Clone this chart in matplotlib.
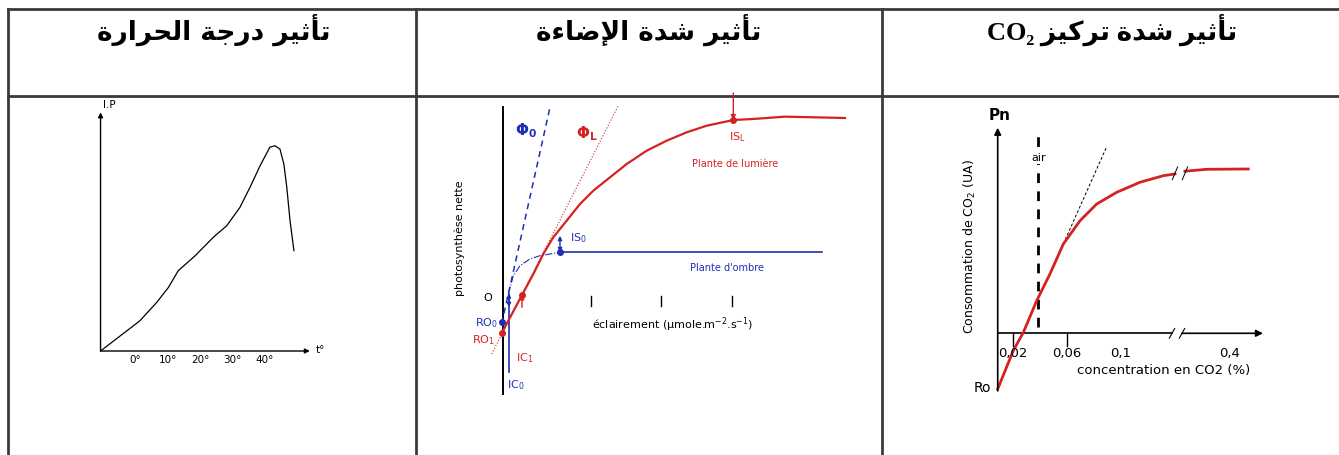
import matplotlib.pyplot as plt

W, H = 1339, 456

# titres (forme de présentation arabe, ordre visuel)
def visual(s):
    return s[::-1]

t_tathir = "\uFE97\uFE84\uFE9B\uFEF4\uFEAE"
t_daraja = "\uFEA9\uFEAD\uFE9F\uFE94"
t_harara = "\uFE8D\uFEDF\uFEA4\uFEAE\uFE8D\uFEAD\uFE93"
t_shidda = "\uFEB7\uFEAA\uFE93"
t_idaa = "\uFE8D\uFEF9\uFEBF\uFE8E\uFE80\uFE93"
t_tarkiz = "\uFE97\uFEAE\uFEDB\uFEF4\uFEB0"
titles = [visual(t_tathir + " " + t_daraja + " " + t_harara),
          visual(t_tathir + " " + t_shidda + " " + t_idaa),
          "CO\u2082 " + visual(t_tathir + " " + t_shidda + " " + t_tarkiz)]

# graphe 1 : température
temp = [-10.6, 1.5, 6.7, 10.3, 13.3, 18.5, 24.1, 28.2, 32.3, 35.4, 38.5, 41.5,
        43.1, 44.6, 45.8, 46.7, 47.7, 48.9]
ip = [0, 12.9, 20.8, 27.2, 34.3, 40.7, 48.6, 53.5, 61.4, 70.0, 79.2, 87.1,
      87.7, 86.3, 79.9, 70.0, 55.7, 42.9]
temp_ticks = [0, 10, 20, 30, 40]
temp_labels = ['0°', '10°', '20°', '30°', '40°']

# graphe 2 : éclairement
light_sun = [-2.4, 26.7, 42.9, 57.1, 71.4, 90.5, 109.6, 128.6, 152.4, 176.3,
             204.9, 233.4, 262, 290.6, 328.6, 357, 402.4, 488.1]
pn_sun = [-53.3, 1.4, 31.4, 60, 83.8, 107.6, 131.4, 150.5, 169.5, 188.6,
          207.6, 221.9, 233.8, 243.3, 251.4, 252.9, 256.2, 254.3]
light_shade = [7.1, 14.3, 23.9, 38.1, 52.4, 81]
pn_shade = [2.9, 29, 43.3, 52.9, 57.6, 62.4]
plateau_shade = [81, 455]
phi_shade_x = [-2.4, 66.7]
phi_shade_y = [-40, 269.5]
phi_sun_x = [-16.6, 164.3]
phi_sun_y = [-82.9, 271.9]
light_ticks = [125, 225, 327]
ro_shade = (-1.4, -36.7)
ro_sun = (-2.4, -53.3)
ic_shade = 8
ic_sun = (26.7, 1.4)
is_shade = (81, 62.4)
is_sun = (328.6, 251.4)

# graphe 3 : CO2
co2_lo = [0.0089, 0.0204, 0.0279, 0.0378, 0.0476, 0.0575, 0.0699, 0.0822,
          0.0970, 0.1143, 0.1316, 0.1402]
pn_lo = [-34.8, -10.9, 0.6, 20.4, 37.1, 55.8, 70.4, 80.8, 88.1, 94.4, 98.5, 99.6]
co2_hi = [0.1476, 0.1637, 0.1945]
pn_hi = [101.3, 102.5, 102.7]
co2_ticks = [0.02, 0.06, 0.1, 0.181]
co2_labels = ['0,02', '0,06', '0,1', '0,4']
air = 0.039
tangent_x = [0.0575, 0.0896]
tangent_y = [55.8, 116.6]

red = '#d42222'
blue = '#1f2fb5'

fig = plt.figure(figsize=(W / 100, H / 100), dpi=100)

# tableau
bg = fig.add_axes([0, 0, 1, 1])
bg.set_xlim(0, W)
bg.set_ylim(H, 0)
bg.axis('off')
for y in [10, 97]:
    bg.plot([8, W], [y, y], color='#3a3a3a', lw=2)
for x in [8, 416, 882]:
    bg.plot([x, x], [10, H], color='#3a3a3a', lw=2)
bg.text(214, 30, titles[0], ha='center', va='center', fontsize=19,
        fontweight='bold', family='DejaVu Sans')
bg.text(649, 30, titles[1], ha='center', va='center', fontsize=19,
        fontweight='bold', family='DejaVu Sans')
bg.text(1112, 30, titles[2], ha='center', va='center', fontsize=19,
        fontweight='bold', family=['Liberation Serif', 'DejaVu Sans'])


def graph_axes(box, origin, scale):
    x0, y0, x1, y1 = box
    ox, oy = origin
    sx, sy = scale
    ax = fig.add_axes([x0 / W, 1 - y1 / H, (x1 - x0) / W, (y1 - y0) / H])
    ax.set_xlim((x0 - ox) / sx, (x1 - ox) / sx)
    ax.set_ylim((oy - y1) / sy, (oy - y0) / sy)
    ax.axis('off')
    return ax


def arrow(ax, start, end, color='k', lw=1.0, ms=8):
    ax.annotate('', xy=end, xytext=start,
                arrowprops=dict(arrowstyle='-|>', color=color, lw=lw,
                                mutation_scale=ms, shrinkA=0, shrinkB=0))


# ---- graphe 1
ax1 = graph_axes((80, 97, 335, 395), (135, 352), (3.25, 2.34))
arrow(ax1, (-10.6, 0), (-10.6, 102), lw=1, ms=7)
arrow(ax1, (-10.6, 0), (53.8, 0), lw=1, ms=7)
ax1.plot(temp, ip, color='k', lw=0.9)
for t, lab in zip(temp_ticks, temp_labels):
    ax1.text(t, -3.5, lab, ha='center', va='center', fontsize=7.5)
ax1.text(-10, 105.5, 'I.P', ha='left', va='center', fontsize=7.5)
ax1.text(55.5, 1, 't°', ha='left', va='center', fontsize=7.5)

# ---- graphe 2
ax2 = graph_axes((418, 98, 880, 410), (503.3, 297), (0.7, 0.7))
ax2.plot([0, 0], [-140, 270], color='k', lw=1.4)
for t in light_ticks:
    ax2.plot([t, t], [0, -14], color='k', lw=1)
ax2.plot(phi_shade_x, phi_shade_y, color=blue, lw=1.1, ls=(0, (4, 3)))
ax2.plot(phi_sun_x, phi_sun_y, color=red, lw=0.8, ls=':')
ax2.plot(light_shade, pn_shade, color=blue, lw=0.8, ls='-.')
ax2.plot(plateau_shade, [is_shade[1]] * 2, color=blue, lw=1.2)
ax2.plot([ic_shade, ic_shade], [2.9, -108.6], color=blue, lw=1.2)
ax2.plot(light_sun, pn_sun, color=red, lw=1.6)
ax2.plot(*ro_shade, 'o', color=blue, ms=4)
ax2.plot(*ro_sun, 'o', color=red, ms=4)
ax2.plot(*ic_sun, 'o', color=red, ms=4)
ax2.plot(*is_shade, 'o', color=blue, ms=4)
ax2.plot(*is_sun, 'o', color=red, ms=4)
ax2.annotate('', xy=(ic_shade, 4), xytext=(ic_shade, -16),
             arrowprops=dict(arrowstyle='<|-|>', color=blue, lw=1,
                             mutation_scale=6, shrinkA=0, shrinkB=0))
ax2.annotate('', xy=(ic_sun[0], ic_sun[1]), xytext=(ic_sun[0], -16),
             arrowprops=dict(arrowstyle='-|>', color=red, lw=1,
                             mutation_scale=6, shrinkA=0, shrinkB=0))
ax2.annotate('', xy=(is_shade[0], is_shade[1]), xytext=(is_shade[0], 86),
             arrowprops=dict(arrowstyle='<|-|>', color=blue, lw=1,
                             mutation_scale=6, shrinkA=0, shrinkB=0))
arrow(ax2, (is_sun[0], 290), is_sun, color=red, lw=1, ms=7)
ax2.text(-22, -1, 'O', ha='center', va='center', fontsize=8)
ax2.text(33, 238, r'$\mathbf{\Phi_0}$', color=blue, ha='center', va='center', fontsize=11)
ax2.text(119, 234, r'$\mathbf{\Phi_L}$', color=red, ha='center', va='center', fontsize=11)
ax2.text(334, 228, r'IS$_\mathregular{L}$', color=red, ha='center', va='center',
         fontsize=8)
ax2.text(331, 190, 'Plante de lumière', color=red, ha='center', va='center',
         fontsize=7)
ax2.text(107, 84, r'IS$_\mathregular{0}$', color=blue, ha='center', va='center',
         fontsize=8)
ax2.text(320, 41, "Plante d'ombre", color=blue, ha='center', va='center',
         fontsize=7)
ax2.text(-7, -37, r'RO$_\mathregular{0}$', color=blue, ha='right', va='center',
         fontsize=8)
ax2.text(-12, -61, r'RO$_\mathregular{1}$', color=red, ha='right', va='center',
         fontsize=8)
ax2.text(30, -87, r'IC$_\mathregular{1}$', color=red, ha='center', va='center',
         fontsize=8)
ax2.text(18, -126, r'IC$_\mathregular{0}$', color=blue, ha='center', va='center',
         fontsize=8)
ax2.text(127, -40, r'éclairement (µmole.m$^\mathregular{-2}$.s$^\mathregular{-1}$)',
         ha='left', va='center', fontsize=8)
ax2.text(-62, 84, 'photosynthèse nette', rotation=90, ha='center', va='center',
         fontsize=8)

# ---- graphe 3
ax3 = graph_axes((884, 98, 1339, 420), (985.7, 334.3), (1350, 1.6))
x0 = co2_lo[0]
arrow(ax3, (x0, -36), (x0, 128.5), lw=1.2, ms=10)
ax3.plot([x0, 0.138], [0, 0], color='k', lw=1.2)
arrow(ax3, (0.1454, 0), (0.2054, 0), lw=1.2, ms=10)
for c in [0.138, 0.1454]:
    ax3.plot([c - 0.002, c + 0.002], [-3, 3], color='k', lw=0.8)
for c in co2_ticks[:2]:
    ax3.plot([c, c], [0, -8], color='k', lw=1)
for c, lab in zip(co2_ticks, co2_labels):
    ax3.text(c, -12, lab, ha='center', va='center', fontsize=9.5)
ax3.plot([air, air], [3.9, 126.6], color='k', lw=2, ls=(0, (3.5, 3)))
ax3.text(air, 110, 'air', ha='center', va='center', fontsize=8,
         bbox=dict(facecolor='white', edgecolor='none', pad=1))
ax3.plot(tangent_x, tangent_y, color='k', lw=0.7, ls=(0, (3, 2)))
ax3.plot(co2_lo, pn_lo, color=red, lw=2)
ax3.plot(co2_hi, pn_hi, color=red, lw=2)
for c in [0.1402, 0.1476]:
    ax3.plot([c - 0.002, c + 0.002], [96, 104], color='k', lw=0.7)
ax3.text(0.0106, 137, 'Pn', ha='center', va='center', fontsize=11,
         fontweight='bold')
ax3.text(-0.0027, -33.5, 'Ro', ha='center', va='center', fontsize=10)
ax3.text(-0.0116, 55, r'Consommation de CO$_\mathregular{2}$ (UA)', rotation=90,
         ha='center', va='center', fontsize=9)
ax3.text(0.132, -22.5, 'concentration en CO2 (%)', ha='center', va='center',
         fontsize=9.5)

fig.savefig('out.png', dpi=100)
